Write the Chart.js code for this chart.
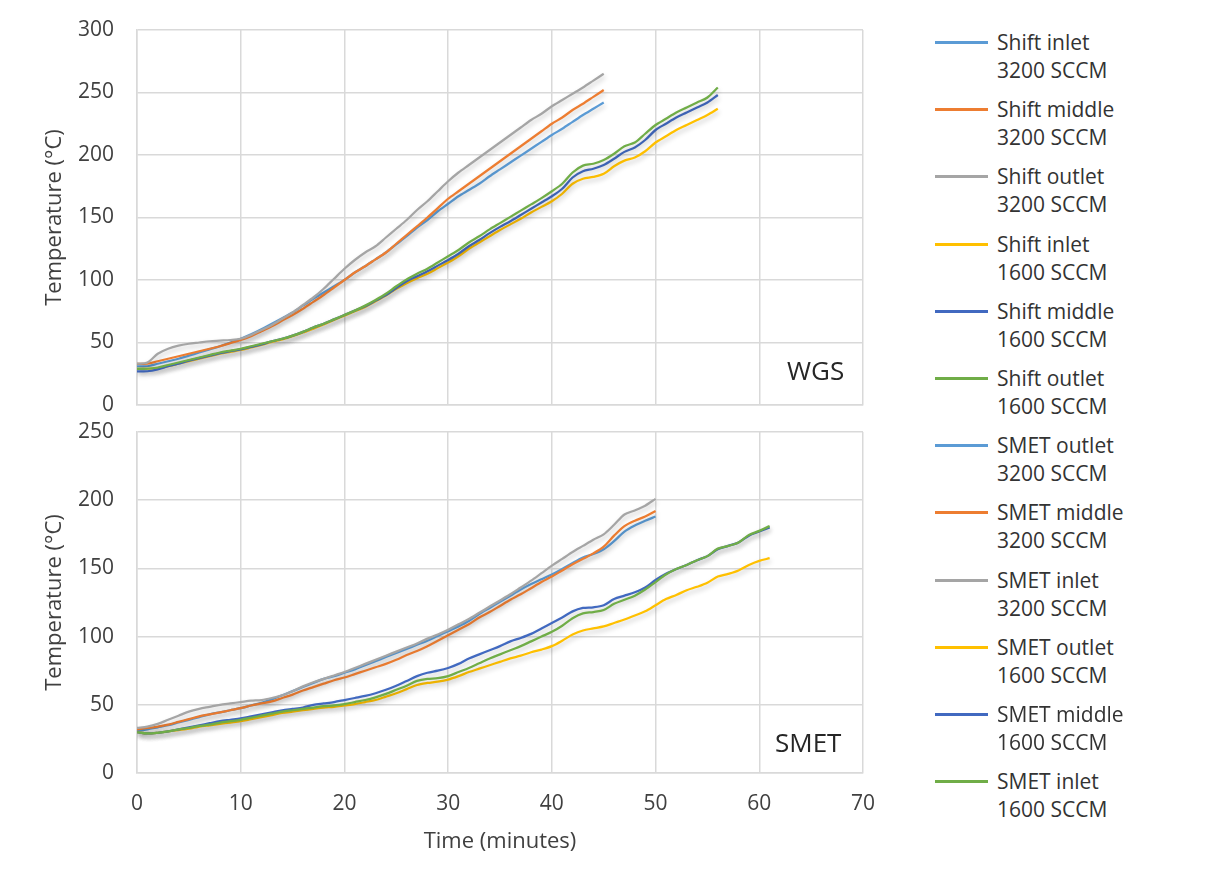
<!DOCTYPE html>
<html>
<head>
<meta charset="utf-8">
<title>Shift / SMET reactor temperatures</title>
<script src="https://cdn.jsdelivr.net/npm/chart.js@4.4.1/dist/chart.umd.min.js"></script>
<style>
  html, body { margin: 0; padding: 0; background: #fff; }
  body { width: 1206px; height: 885px; position: relative; overflow: hidden; font-family: 'Open Sans', sans-serif; }
  .chart-box { position: absolute; left: 0; width: 880px; }
  #wgs-box { top: 0; height: 420px; }
  #smet-box { top: 420px; height: 465px; }
  .panel-label { position: absolute; font-size: 26px; line-height: 30px; color: #262626; }
  .leg-item { position: absolute; left: 935px; width: 260px; height: 56px; }
  .leg-line { position: absolute; left: 0; top: 13px; width: 53px; height: 3px; }
  .leg-text { position: absolute; left: 62px; top: 0; font-size: 21px; line-height: 28px; white-space: nowrap; color: #333; }
</style>
</head>
<body>
<div class="chart-box" id="wgs-box"><canvas id="wgs-chart" width="880" height="420"></canvas></div>
<div class="chart-box" id="smet-box"><canvas id="smet-chart" width="880" height="465"></canvas></div>
<div class="panel-label" style="left:787px; top:355px;">WGS</div>
<div class="panel-label" style="left:775px; top:727px;">SMET</div>
<div id="legend"></div>

<script>
// time axis (minutes)
const minutesTo45 = [0,1,2,3,4,5,6,7,8,9,10,11,12,13,14,15,16,17,18,19,20,21,22,23,24,25,26,27,28,29,30,31,32,33,34,35,36,37,38,39,40,41,42,43,44,45];
const minutesTo56 = [0,1,2,3,4,5,6,7,8,9,10,11,12,13,14,15,16,17,18,19,20,21,22,23,24,25,26,27,28,29,30,31,32,33,34,35,36,37,38,39,40,41,42,43,44,45,46,47,48,49,50,51,52,53,54,55,56];
const minutesTo50 = [0,1,2,3,4,5,6,7,8,9,10,11,12,13,14,15,16,17,18,19,20,21,22,23,24,25,26,27,28,29,30,31,32,33,34,35,36,37,38,39,40,41,42,43,44,45,46,47,48,49,50];
const minutesTo61 = [0,1,2,3,4,5,6,7,8,9,10,11,12,13,14,15,16,17,18,19,20,21,22,23,24,25,26,27,28,29,30,31,32,33,34,35,36,37,38,39,40,41,42,43,44,45,46,47,48,49,50,51,52,53,54,55,56,57,58,59,60,61];

const xTicks = [0, 10, 20, 30, 40, 50, 60, 70];
const wgsYTicks = [0, 50, 100, 150, 200, 250, 300];
const smetYTicks = [0, 50, 100, 150, 200, 250];

// WGS (shift reactor) temperatures, °C
const shiftInlet3200 = [31,31,33,35,37,39.5,42,44.5,47,50,53,56.5,60.5,65,69.5,74,79.5,85,90,95,100,106,111,116.5,122,128.5,135,142,148,155,161,167,172,177,183,188.5,194,199.5,205,210.5,216,221,226.5,232,237,242];
const shiftMiddle3200 = [33,33,35,37,39,41,43,45,47,49.5,52,55,59,63,67.5,72,77,82.5,88,94,100,106,111,116.5,122,129,136,143,150,157.5,165,171,177,183,189,195,201,207,213,219,225,230,236,241,246.5,252];
const shiftOutlet3200 = [33,34,41,45,47.5,49,50,51,51.5,52,53,56,60,64,69,74,80,86,93,101,109,116,122,127,134,141,148,156,163,171,179,186,192,198,204,210,216,222,228,233,239,244,249,254,259.5,265];
const shiftInlet1600 = [29,29,29.5,31,33,35,37,39,41,42.5,44,46,48,50.5,52.5,55,58,61,64.5,68,71.5,75,78.5,83,87.5,93,97.5,101.5,105,109.5,114,119,125,130,135,140,144.5,149,154,158.5,163,169,177,181,182.5,185,191,195.5,198,203,210,215,220,224,228,232,237];
const shiftMiddle1600 = [27,27,28.5,31,33,35.5,37.5,39.5,41.5,43,44.5,46.5,48.5,51,53,55.5,58.5,62,65,68.5,72,75.5,79,83.5,88,93.5,99,103,107,111.5,116,121,127,132,137.5,142.5,147,152,157,162,167,173,182,187,189,192,197,202.5,206,212,220,225,230,234,238,242,248];
const shiftOutlet1600 = [29,29,30,32,34,36,38,40,42,43.5,45,47,49,51,53,55.5,58.5,62,65,68.5,72,75.5,79.5,84,89,95,100.5,105,109,114,119,124,130,135,140.5,145.5,150.5,155.5,160.5,165.5,171,177,186,191.5,193,196,201,207,210,217,224,229,234,238,242,246,254];

// SMET (methanation reactor) temperatures, °C
const smetOutlet3200 = [31,32,33.5,35,37,39,41,43,44.5,46,47.5,49.5,51.5,54,57,60,63,66,69,71,73.5,76,79,82,85,88,91,94,97,100.5,104,107.5,111.5,116.5,121,125.5,130,134.5,138.5,142,145.5,149.5,154,158,160.5,164,170,177,181.5,185,188];
const smetMiddle3200 = [32,33,34,35.5,37.5,39.5,41.5,43,44.5,46,47.5,49.5,51,52.5,55,57.5,60.5,63,65.5,68,70,72.5,75,77.5,80,83,86.5,89.5,93,97,101,105,109,114,118,122.5,127,131,135.5,140,144,148.5,153,157,161,166,174,181,185,188,192];
const smetInlet3200 = [33,34,36,39,42,45,47,48.5,50,51,52,53,53.5,55,57,60,63.5,66.5,69,71.5,74,77,80,83,86,89,92,95,98.5,101.5,105,109,113,117.5,122,126.5,131,136,141,146.5,152,157,162,166.5,171,175,182,189.5,192.5,196,201];
const smetOutlet1600 = [30,29,29.5,30.5,31.5,32.5,34,35,36,37,38,39.5,41,42.5,44,45,46,47,48,48.5,49.5,50.5,52,53.5,56,58.5,61.5,64.5,66,67,68.5,71,74,76.5,79,81.5,84,86,88.5,90.5,93,97,101.5,104.5,106,107.5,110,112.5,115.5,118.5,123,127.5,130.5,134,136.5,139.5,144,146,148.5,152.5,155.5,157.5];
const smetMiddle1600 = [30,29,29.5,30.5,32,33.5,35,36.5,38,39,40,41.5,43,44.5,46,47,48,50,51,52,53.5,55,56.5,58.5,61,64,67.5,71,73.5,75,77,80,84,87,90,93,96.5,99,102,106,110,114,118.5,121,121.5,123,127.5,130,132.5,136,141.5,146,149.5,152.5,156,159,164,166.5,169,174,177,180];
const smetInlet1600 = [30,29,29.5,30.5,32,33,34.5,35.5,37,38,39,40.5,42,43.5,45,46,47,48,49,49.5,50.5,52,53.5,55.5,58,61,64,67.5,69,69.5,71,74,77,80.5,84,87,90,93,96.5,100,103.5,108,113.5,117,118,119.5,124,127,130,134.5,140,145.5,149.5,152.5,156,159,164.5,166.5,169,174.5,177.5,181];

const seriesColors = ['#5B9BD5', '#ED7D31', '#A5A5A5', '#FFC000', '#4169C0', '#70AD47'];

const wgsSeries = [
  { name: ['Shift inlet', '3200 SCCM'], x: minutesTo45, y: shiftInlet3200 },
  { name: ['Shift middle', '3200 SCCM'], x: minutesTo45, y: shiftMiddle3200 },
  { name: ['Shift outlet', '3200 SCCM'], x: minutesTo45, y: shiftOutlet3200 },
  { name: ['Shift inlet', '1600 SCCM'], x: minutesTo56, y: shiftInlet1600 },
  { name: ['Shift middle', '1600 SCCM'], x: minutesTo56, y: shiftMiddle1600 },
  { name: ['Shift outlet', '1600 SCCM'], x: minutesTo56, y: shiftOutlet1600 }
];

const smetSeries = [
  { name: ['SMET outlet', '3200 SCCM'], x: minutesTo50, y: smetOutlet3200 },
  { name: ['SMET middle', '3200 SCCM'], x: minutesTo50, y: smetMiddle3200 },
  { name: ['SMET inlet', '3200 SCCM'], x: minutesTo50, y: smetInlet3200 },
  { name: ['SMET outlet', '1600 SCCM'], x: minutesTo61, y: smetOutlet1600 },
  { name: ['SMET middle', '1600 SCCM'], x: minutesTo61, y: smetMiddle1600 },
  { name: ['SMET inlet', '1600 SCCM'], x: minutesTo61, y: smetInlet1600 }
];

const gridColor = '#d9d9d9';
const tickColor = '#404040';

// soft drop shadow under the lines, like the Excel original
const lineShadow = {
  id: 'lineShadow',
  beforeDatasetsDraw(chart) {
    const c = chart.ctx;
    c.save();
    c.shadowColor = 'rgba(0,0,0,0.22)';
    c.shadowBlur = 5;
    c.shadowOffsetX = 1;
    c.shadowOffsetY = 3;
  },
  afterDatasetsDraw(chart) {
    chart.ctx.restore();
  }
};

// tick padding would otherwise leak into the layout and shrink the plot area
function clearScalePadding(scale) {
  scale.paddingTop = 0;
  scale.paddingBottom = 0;
  scale.paddingLeft = 0;
  scale.paddingRight = 0;
}

function makeDatasets(series) {
  return series.map((s, i) => ({
    label: s.name.join(' '),
    data: s.x.map((t, k) => ({ x: t, y: s.y[k] })),
    borderColor: seriesColors[i],
    backgroundColor: seriesColors[i],
    borderWidth: 2.25,
    pointRadius: 0,
    tension: 0.3,
    fill: false,
    order: series.length - i
  }));
}

function buildChart(canvasId, series, yTicks, opts) {
  const ctx = document.getElementById(canvasId).getContext('2d');
  return new Chart(ctx, {
    type: 'line',
    data: { datasets: makeDatasets(series) },
    plugins: [lineShadow],
    options: {
      responsive: false,
      animation: false,
      devicePixelRatio: 1,
      layout: { padding: opts.padding },
      plugins: { legend: { display: false }, tooltip: { enabled: false } },
      scales: {
        x: {
          type: 'linear',
          min: xTicks[0],
          max: xTicks[xTicks.length - 1],
          afterBuildTicks: (scale) => { scale.ticks = xTicks.map(v => ({ value: v })); },
          afterFit: (scale) => { scale.height = opts.xHeight; clearScalePadding(scale); },
          grid: { color: gridColor, lineWidth: 1.5, drawTicks: false },
          border: { color: gridColor, width: 1.5 },
          ticks: { display: opts.showX, color: tickColor, padding: 18, maxRotation: 0, font: { family: 'Open Sans', size: 21 } },
          title: {
            display: opts.showX,
            text: 'Time (minutes)',
            color: tickColor,
            padding: { top: 0, bottom: 30 },
            font: { family: 'Open Sans', size: 22 }
          }
        },
        y: {
          min: yTicks[0],
          max: yTicks[yTicks.length - 1],
          afterBuildTicks: (scale) => { scale.ticks = yTicks.map(v => ({ value: v })); },
          afterFit: (scale) => { scale.width = 137; clearScalePadding(scale); },
          grid: { color: gridColor, lineWidth: 1.5, drawTicks: false },
          border: { color: gridColor, width: 1.5 },
          ticks: { color: tickColor, padding: 23, font: { family: 'Open Sans', size: 21 } },
          title: {
            display: true,
            text: 'Temperature (°C)',
            color: tickColor,
            padding: { top: 42, bottom: 0 },
            font: { family: 'Open Sans', size: 22 }
          }
        }
      }
    }
  });
}

function buildLegend() {
  const holder = document.getElementById('legend');
  const all = wgsSeries.concat(smetSeries);
  all.forEach((s, i) => {
    const item = document.createElement('div');
    item.className = 'leg-item';
    item.style.top = (28 + i * 67.2) + 'px';
    const line = document.createElement('div');
    line.className = 'leg-line';
    line.style.background = seriesColors[i % seriesColors.length];
    const text = document.createElement('div');
    text.className = 'leg-text';
    text.innerHTML = s.name.join('<br>');
    item.appendChild(line);
    item.appendChild(text);
    holder.appendChild(item);
  });
}

buildChart('wgs-chart', wgsSeries, wgsYTicks, {
  padding: { top: 30, right: 17, bottom: 15, left: 0 },
  xHeight: 0,
  showX: false
});
buildChart('smet-chart', smetSeries, smetYTicks, {
  padding: { top: 12, right: 17, bottom: 0, left: 0 },
  xHeight: 112,
  showX: true
});
buildLegend();
</script>
</body>
</html>
